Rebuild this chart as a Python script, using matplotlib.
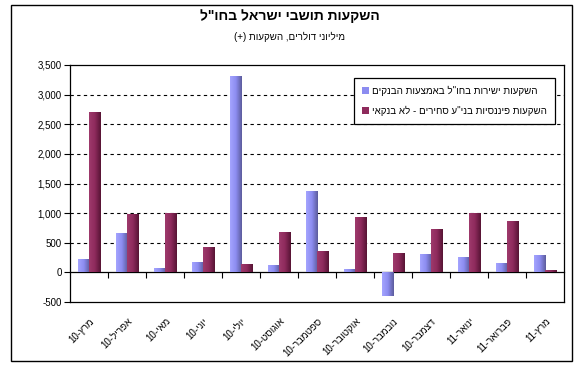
import matplotlib

matplotlib.use("Agg")

import matplotlib.pyplot as plt
import numpy as np
from matplotlib.colors import LinearSegmentedColormap
from matplotlib.patches import Rectangle
from matplotlib.ticker import FuncFormatter

# logical-order Hebrew text; converted to visual order for drawing
TITLE = 'השקעות תושבי ישראל בחו"ל'
SUBTITLE = "מיליוני דולרים, השקעות (+)"
SERIES_NAMES = [
    'השקעות ישירות בחו"ל באמצעות הבנקים',
    'השקעות פיננסיות בני"ע סחירים - לא בנקאי',
]
months = ["מרץ", "אפריל", "מאי", "יוני", "יולי", "אוגוסט", "ספטמבר",
          "אוקטובר", "נובמבר", "דצמבר", "ינואר", "פברואר", "מרץ"]
years = ["10", "10", "10", "10", "10", "10", "10", "10", "10", "10", "11", "11", "11"]
direct_banks = [231, 667, 81, 183, 3312, 118, 1371, 54, -398, 312, 263, 151, 296]
financial_nonbank = [2715, 978, 1000, 425, 134, 688, 366, 941, 323, 737, 1000, 871, 48]
y_ticks = [-500, 0, 500, 1000, 1500, 2000, 2500, 3000, 3500]

FONT = ["Liberation Sans", "DejaVu Sans"]
BLUE_RAMP = ["#a4a4ff", "#8c8cf0", "#5c5c9c"]
MAROON_RAMP = ["#9e3a6c", "#8e2a5c", "#561434"]


def visual(text: str) -> str:
    mirror = {"(": ")", ")": "("}
    return "".join(mirror.get(ch, ch) for ch in text[::-1])


def gradient_bars(axis, bars, ramp):
    cmap = LinearSegmentedColormap.from_list("ramp", ramp)
    grad = np.linspace(0, 1, 64).reshape(1, -1)
    for bar in bars:
        x0, y0 = bar.get_x(), bar.get_y()
        w, h = bar.get_width(), bar.get_height()
        bar.set_facecolor("none")
        img = axis.imshow(
            grad,
            cmap=cmap,
            aspect="auto",
            extent=(x0, x0 + w, min(y0, y0 + h), max(y0, y0 + h)),
            zorder=3,
        )
        img.set_clip_path(bar)


plt.rcParams["font.family"] = FONT
figure = plt.figure(figsize=(5.8, 3.69), dpi=100)
figure.patch.set_facecolor("white")
figure.patches.append(
    Rectangle((11 / 580, 1 - 361 / 369), 561 / 580, 356 / 369,
              transform=figure.transFigure, fill=False, edgecolor="black", linewidth=1.0)
)

axis = figure.add_axes((70 / 580, 1 - 302 / 369, 494 / 580, 237 / 369))
x = np.arange(len(months))
width = 0.29
bars_a = axis.bar(x - width / 2, direct_banks, width, color=BLUE_RAMP[1], zorder=3,
                  label=visual(SERIES_NAMES[0]))
bars_b = axis.bar(x + width / 2, financial_nonbank, width, color=MAROON_RAMP[1], zorder=3,
                  label=visual(SERIES_NAMES[1]))

axis.set_xlim(-0.5, len(months) - 0.5)
axis.set_ylim(y_ticks[0], y_ticks[-1])
axis.set_yticks(y_ticks)
axis.yaxis.set_major_formatter(FuncFormatter(lambda v, _: f"{int(v):,}"))
axis.tick_params(axis="y", direction="out", length=4, width=0.8, labelsize=7, pad=2)
for level in y_ticks[2:-1]:
    axis.axhline(level, color="black", linestyle=(0, (3, 3)), linewidth=0.8, zorder=1)

axis.set_xticks(x)
axis.set_xticklabels(
    [f"{yr}-{visual(m)}" for m, yr in zip(months, years)],
    rotation=45, ha="right", rotation_mode="anchor", fontsize=7,
)
axis.tick_params(axis="x", length=0, pad=10)

zero_axis = axis.secondary_xaxis((0 - y_ticks[0]) / (y_ticks[-1] - y_ticks[0]))
zero_axis.set_xticks(np.arange(len(months) - 1) + 0.5)
zero_axis.set_xticklabels([])
zero_axis.tick_params(direction="out", length=4, width=0.8)
zero_axis.spines["bottom"].set_linewidth(0.9)

for spine in axis.spines.values():
    spine.set_linewidth(0.9)

legend = axis.legend(
    loc="upper left",
    bbox_to_anchor=(284 / 494, 1 - 13 / 237),
    borderaxespad=0,
    fontsize=7,
    frameon=True,
    fancybox=False,
    edgecolor="black",
    framealpha=1,
    handlelength=0.7,
    handleheight=0.7,
    handletextpad=0.4,
    labelspacing=1.0,
    borderpad=0.8,
)
legend.get_frame().set_linewidth(0.9)
legend.set_zorder(6)

gradient_bars(axis, bars_a, BLUE_RAMP)
gradient_bars(axis, bars_b, MAROON_RAMP)
axis.set_xlim(-0.5, len(months) - 0.5)
axis.set_ylim(y_ticks[0], y_ticks[-1])

figure.text(0.5, 1 - 16 / 369, visual(TITLE), ha="center", va="center",
            fontsize=10, fontweight="bold")
figure.text(0.5, 1 - 37 / 369, visual(SUBTITLE), ha="center", va="center", fontsize=7)

figure.savefig("out.png", dpi=100)
